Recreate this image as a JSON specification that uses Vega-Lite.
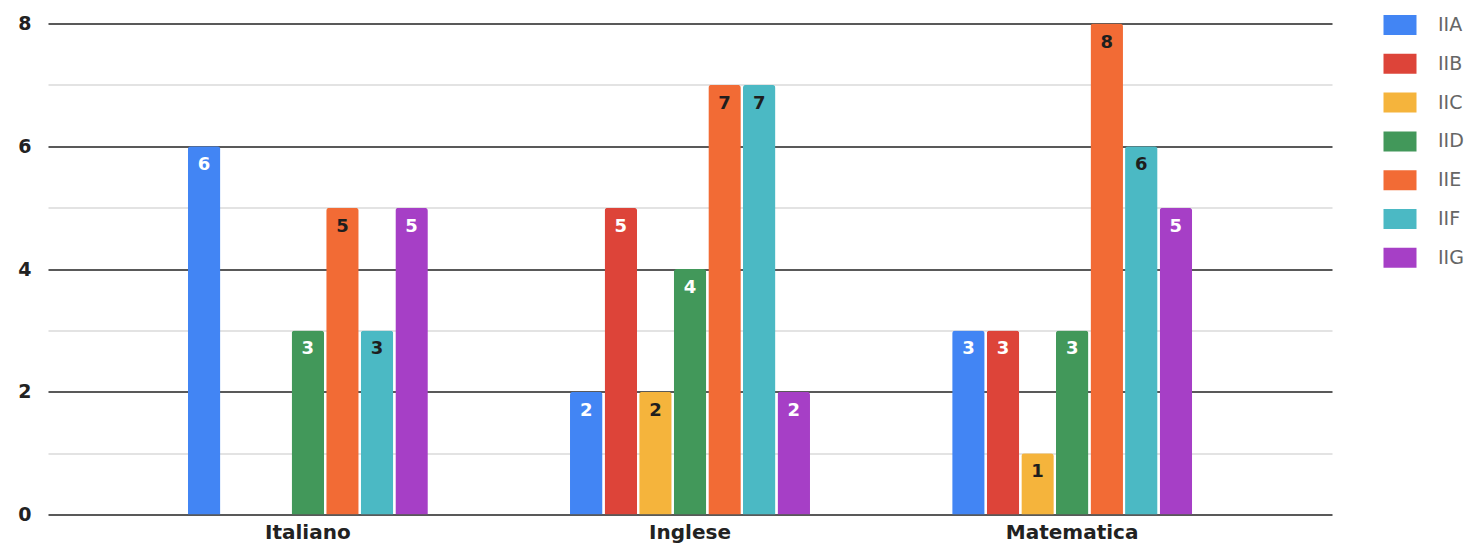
{
  "$schema": "https://vega.github.io/schema/vega-lite/v6.json",
  "autosize": {"type": "none"},
  "padding": {"left": 48, "top": 23.5, "right": 151, "bottom": 30.5},
  "width": 1284,
  "height": 491,
  "background": "white",
  "config": {"view": {"stroke": null}, "font": "DejaVu Sans"},
  "data": {"values": [
    {"materia": "Italiano", "classe": "IIA", "valore": 6},
    {"materia": "Italiano", "classe": "IIB", "valore": 0},
    {"materia": "Italiano", "classe": "IIC", "valore": 0},
    {"materia": "Italiano", "classe": "IID", "valore": 3},
    {"materia": "Italiano", "classe": "IIE", "valore": 5},
    {"materia": "Italiano", "classe": "IIF", "valore": 3},
    {"materia": "Italiano", "classe": "IIG", "valore": 5},
    {"materia": "Inglese", "classe": "IIA", "valore": 2},
    {"materia": "Inglese", "classe": "IIB", "valore": 5},
    {"materia": "Inglese", "classe": "IIC", "valore": 2},
    {"materia": "Inglese", "classe": "IID", "valore": 4},
    {"materia": "Inglese", "classe": "IIE", "valore": 7},
    {"materia": "Inglese", "classe": "IIF", "valore": 7},
    {"materia": "Inglese", "classe": "IIG", "valore": 2},
    {"materia": "Matematica", "classe": "IIA", "valore": 3},
    {"materia": "Matematica", "classe": "IIB", "valore": 3},
    {"materia": "Matematica", "classe": "IIC", "valore": 1},
    {"materia": "Matematica", "classe": "IID", "valore": 3},
    {"materia": "Matematica", "classe": "IIE", "valore": 8},
    {"materia": "Matematica", "classe": "IIF", "valore": 6},
    {"materia": "Matematica", "classe": "IIG", "valore": 5}
  ]},
  "encoding": {
    "x": {
      "field": "materia", "type": "nominal", "sort": ["Italiano", "Inglese", "Matematica"],
      "scale": {"paddingInner": 0.372, "paddingOuter": 0.366},
      "axis": {"title": null, "domain": false, "ticks": false, "labelAngle": 0,
               "labelFont": "DejaVu Sans", "labelFontSize": 20, "labelFontWeight": "bold",
               "labelColor": "#222", "labelPadding": 8}
    },
    "xOffset": {
      "field": "classe", "type": "nominal",
      "sort": ["IIA", "IIB", "IIC", "IID", "IIE", "IIF", "IIG"],
      "scale": {"paddingInner": 0.06, "paddingOuter": 0}
    },
    "y": {
      "field": "valore", "type": "quantitative",
      "scale": {"domain": [0, 8], "nice": false},
      "axis": {
        "title": null, "domain": false, "ticks": false,
        "values": [0, 1, 2, 3, 4, 5, 6, 7, 8],
        "labelExpr": "datum.value % 2 === 0 ? datum.label : ''",
        "labelFont": "DejaVu Sans", "labelFontSize": 19, "labelFontWeight": "bold",
        "labelColor": "#222", "labelPadding": 17,
        "grid": true,
        "gridColor": {"condition": {"test": "datum.value % 2 === 0", "value": "#222"}, "value": "#c8c8c8"},
        "gridWidth": {"condition": {"test": "datum.value % 2 === 0", "value": 1.6}, "value": 1.2}
      }
    }
  },
  "layer": [
    {
      "mark": {"type": "bar", "cornerRadiusTopLeft": 3, "cornerRadiusTopRight": 3},
      "encoding": {
        "color": {
          "field": "classe", "type": "nominal",
          "sort": ["IIA", "IIB", "IIC", "IID", "IIE", "IIF", "IIG"],
          "scale": {
            "domain": ["IIA", "IIB", "IIC", "IID", "IIE", "IIF", "IIG"],
            "range": ["#4285f4", "#dd4439", "#f5b43c", "#42985a", "#f26b35", "#4bb9c4", "#a63fc6"]
          },
          "legend": {
            "title": null, "orient": "none", "legendX": 1342, "legendY": -8.5,
            "padding": 0,
            "symbolType": "M-1.65,-1H1.65V1H-1.65Z", "symbolSize": 400,
            "symbolStrokeWidth": 0, "symbolOpacity": 1,
            "labelFont": "DejaVu Sans", "labelFontSize": 19, "labelColor": "#666",
            "labelOffset": 28, "rowPadding": 18.8
          }
        }
      }
    },
    {
      "transform": [{"filter": "datum.valore > 0"}],
      "mark": {"type": "text", "baseline": "middle", "dy": 19, "fontSize": 18, "fontWeight": "bold", "font": "DejaVu Sans"},
      "encoding": {
        "text": {"field": "valore", "type": "quantitative"},
        "color": {
          "condition": {"test": "indexof(['IIC','IIE','IIF'], datum.classe) >= 0", "value": "#1e1e1e"},
          "value": "white"
        }
      }
    }
  ]
}
